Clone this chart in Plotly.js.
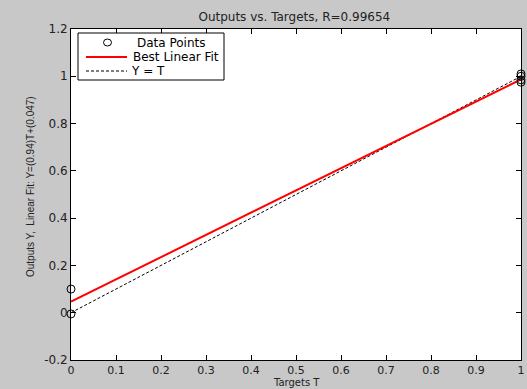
<!DOCTYPE html>
<html>
<head>
<meta charset="utf-8">
<script src="https://cdn.plot.ly/plotly-3.0.1.min.js"></script>
<style>html,body{margin:0;padding:0;background:#c8c8c8;}#chart{width:527px;height:389px;}</style>
</head>
<body>
<div id="chart"></div>
<script>
// Data
var targets = [0, 0, 1, 1, 1, 1];
var outputs = [0.1, -0.005, 1.01, 1.0, 0.985, 0.975];
var fitSlope = 0.94;
var fitIntercept = 0.047;
var lineT = [0, 1];
var fitY = lineT.map(function (t) { return fitSlope * t + fitIntercept; });
var identY = lineT.slice();
var xTicks = [0, 0.1, 0.2, 0.3, 0.4, 0.5, 0.6, 0.7, 0.8, 0.9, 1];
var xTickText = ['0', '0.1', '0.2', '0.3', '0.4', '0.5', '0.6', '0.7', '0.8', '0.9', '1'];
var yTicks = [-0.2, 0, 0.2, 0.4, 0.6, 0.8, 1, 1.2];
var yTickText = ['-0.2', '0', '0.2', '0.4', '0.6', '0.8', '1', '1.2'];
var legendNames = ['Data Points', 'Best Linear Fit', 'Y = T'];
var xTitle = 'Targets T';
var yTitle = 'Outputs Y,  Linear Fit: Y=(0.94)T+(0.047)';

var font = 'DejaVu Sans, sans-serif';
var W = 527, H = 389, ML = 71, MR = 6, MT = 29, MB = 29;
var PW = W - ML - MR, PH = H - MT - MB;
function px(x) { return (x - ML) / PW; }
function py(y) { return (H - MB - y) / PH; }

var traces = [
  {x: lineT, y: identY, mode: 'lines', name: legendNames[2], type: 'scatter',
   line: {color: '#000', width: 1, dash: '3px,2px'}},
  {x: lineT, y: fitY, mode: 'lines', name: legendNames[1], type: 'scatter',
   line: {color: '#ff0000', width: 2}},
  {x: targets, y: outputs, mode: 'markers', name: legendNames[0], type: 'scatter',
   marker: {symbol: 'circle-open', size: 8, color: '#000', line: {width: 1, color: '#000'}}, cliponaxis: false}
];

var axisCommon = {
  showgrid: false, zeroline: false, showline: true, linecolor: '#000', linewidth: 1,
  mirror: 'ticks', ticks: 'inside', ticklen: 5, tickcolor: '#000'
};

// Legend drawn as a MATLAB-style box
var shapes = [
  {type: 'rect', xref: 'paper', yref: 'paper', x0: px(78), x1: px(224), y0: py(80), y1: py(33),
   fillcolor: '#ffffff', line: {color: '#000', width: 1}, layer: 'above'},
  {type: 'circle', xref: 'paper', yref: 'paper', x0: px(103.5), x1: px(111.5), y0: py(46), y1: py(39),
   line: {color: '#000', width: 1}, layer: 'above'},
  {type: 'line', xref: 'paper', yref: 'paper', x0: px(86), x1: px(127), y0: py(57), y1: py(57),
   line: {color: '#ff0000', width: 2}, layer: 'above'},
  {type: 'line', xref: 'paper', yref: 'paper', x0: px(86), x1: px(127), y0: py(71), y1: py(71),
   line: {color: '#000', width: 1, dash: '3px,2px'}, layer: 'above'}
];
var annotations = [
  {text: legendNames[0], xref: 'paper', yref: 'paper', x: px(135), y: py(43), xanchor: 'left', yanchor: 'middle', showarrow: false, font: {family: font, size: 12, color: '#000'}},
  {text: legendNames[1], xref: 'paper', yref: 'paper', x: px(131), y: py(57), xanchor: 'left', yanchor: 'middle', showarrow: false, font: {family: font, size: 12, color: '#000'}},
  {text: legendNames[2], xref: 'paper', yref: 'paper', x: px(129), y: py(71), xanchor: 'left', yanchor: 'middle', showarrow: false, font: {family: font, size: 12, color: '#000'}},
  {text: xTitle, xref: 'paper', yref: 'paper', x: 0.5, y: py(389), xanchor: 'center', yanchor: 'bottom', showarrow: false,
   borderpad: 0, font: {family: font, size: 10, color: '#222'}},
  {text: yTitle, xref: 'paper', yref: 'paper', x: px(30), y: py(187), xanchor: 'center', yanchor: 'middle', textangle: -90, showarrow: false,
   font: {family: 'Liberation Sans, Arial, sans-serif', size: 10, color: '#222'}}
];

var layout = {
  width: W, height: H,
  margin: {l: ML, r: MR, t: MT, b: MB},
  paper_bgcolor: '#c8c8c8', plot_bgcolor: '#ffffff',
  showlegend: false,
  title: {text: 'Outputs vs. Targets, R=0.99654', font: {family: font, size: 12, color: '#222'},
          x: 0.5585, xanchor: 'center', y: 0.958, yanchor: 'middle'},
  xaxis: Object.assign({}, axisCommon, {range: [0, 1], tickvals: xTicks, ticktext: xTickText,
    tickfont: {family: font, size: 11, color: '#222'}}),
  yaxis: Object.assign({}, axisCommon, {range: [-0.2, 1.2], tickvals: yTicks, ticktext: yTickText,
    tickfont: {family: font, size: 12, color: '#222'}}),
  shapes: shapes,
  annotations: annotations
};

Plotly.newPlot('chart', traces, layout, {displayModeBar: false, staticPlot: true});
</script>
</body>
</html>
